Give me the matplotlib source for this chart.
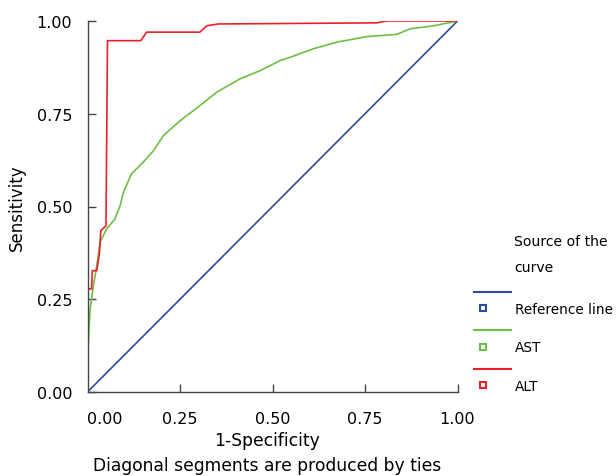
import numpy as np
import matplotlib.pyplot as plt
import matplotlib.transforms as mtransforms
from matplotlib.lines import Line2D
from matplotlib.legend_handler import HandlerBase

# ROC points
alt_fpr = [0.0, 0.002, 0.011, 0.013, 0.025, 0.032, 0.036, 0.050, 0.054, 0.144, 0.160, 0.304, 0.322, 0.353,
           0.782, 0.809, 1.0]
alt_tpr = [0.152, 0.278, 0.278, 0.327, 0.327, 0.372, 0.435, 0.448, 0.947, 0.947, 0.970, 0.970, 0.987, 0.992,
           0.995, 1.0, 1.0]

ast_fpr = [0.0, 0.007, 0.016, 0.025, 0.034, 0.052, 0.074, 0.088, 0.097, 0.119, 0.151, 0.178, 0.205, 0.25,
           0.304, 0.349, 0.412, 0.466, 0.52, 0.547, 0.61, 0.674, 0.755, 0.836, 0.872, 0.935, 0.98, 1.0]
ast_tpr = [0.089, 0.224, 0.287, 0.34, 0.404, 0.44, 0.466, 0.502, 0.538, 0.588, 0.62, 0.65, 0.691, 0.731,
           0.772, 0.808, 0.844, 0.866, 0.893, 0.902, 0.925, 0.943, 0.958, 0.964, 0.979, 0.987, 0.996, 1.0]

ref_x = [0.0, 1.0]
ref_y = [0.0, 1.0]

labels = ["Reference line", "AST", "ALT"]
colors = ["#2E4A9E", "#6DBE45", "#E8202A"]
ticks = [0.0, 0.25, 0.5, 0.75, 1.0]
tick_labels = ["0.00", "0.25", "0.50", "0.75", "1.00"]

plt.rcParams['font.family'] = ['DejaVu Sans']
fs_tick = 11.5
fs_lab = 12.3
fs_leg = 9.8


class LineAboveSquare(HandlerBase):
    # spss style legend key: line on top, small hollow square below
    def create_artists(self, legend, orig_handle, xdescent, ydescent, width, height, fontsize, trans):
        c = orig_handle.get_color()
        ly = height / 2 + 12
        ln = Line2D([0, width], [ly, ly], color=c, lw=1.5, transform=trans)
        sq = Line2D([6.5], [height / 2], marker='s', ms=4.5, mfc='white',
                    mec=c, mew=1.5, ls='none', transform=trans)
        return [ln, sq]


fig = plt.figure(figsize=(6.16, 4.77), dpi=100)
ax = fig.add_axes([87.5 / 616, 1 - 393 / 477, 370 / 616, 371 / 477])

h_ref, = ax.plot(ref_x, ref_y, color=colors[0], lw=1.2)
h_ast, = ax.plot(ast_fpr, ast_tpr, color=colors[1], lw=1.2)
h_alt, = ax.plot(alt_fpr, alt_tpr, color=colors[2], lw=1.2)

ax.set_xlim(0, 1)
ax.set_ylim(0, 1)
ax.set_xticks(ticks)
ax.set_yticks(ticks)
ax.set_xticklabels(tick_labels, fontsize=fs_tick)
ax.set_yticklabels(tick_labels, fontsize=fs_tick)
ax.tick_params(direction='in', length=6, width=1, color='#444444')
ax.tick_params(axis='y', pad=11)
ax.tick_params(axis='x', pad=14)
for s in ['top', 'right']:
    ax.spines[s].set_visible(False)
for s in ['left', 'bottom']:
    ax.spines[s].set_color('#444444')
    ax.spines[s].set_linewidth(1)

# first x tick label sits right of the axis in the original
lab0 = ax.get_xticklabels()[0]
lab0.set_transform(lab0.get_transform() + mtransforms.ScaledTranslation(0.17, 0, fig.dpi_scale_trans))
ax.get_xticklines()[0].set_visible(False)

ax.set_xlabel("1-Specificity", fontsize=fs_lab)
ax.xaxis.set_label_coords(0.485, -0.104)
ax.set_ylabel("Sensitivity", fontsize=12, labelpad=8)
fig.text(267 / 616, 1 - 466 / 477, "Diagonal segments are produced by ties",
         fontsize=fs_lab, ha='center', va='center')

fig.text(514 / 616, 1 - 242 / 477, "Source of the", fontsize=10.1, ha='left', va='center')
fig.text(514 / 616, 1 - 268 / 477, "curve", fontsize=10.1, ha='left', va='center')

leg = fig.legend([h_ref, h_ast, h_alt], labels, handler_map={Line2D: LineAboveSquare()},
                 loc='upper left', bbox_to_anchor=(474 / 616, 1 - 303 / 477), frameon=False,
                 fontsize=fs_leg, handlelength=2.72, handletextpad=0.29, labelspacing=1.8,
                 borderaxespad=0, borderpad=0)

fig.savefig("out.png", dpi=100)
